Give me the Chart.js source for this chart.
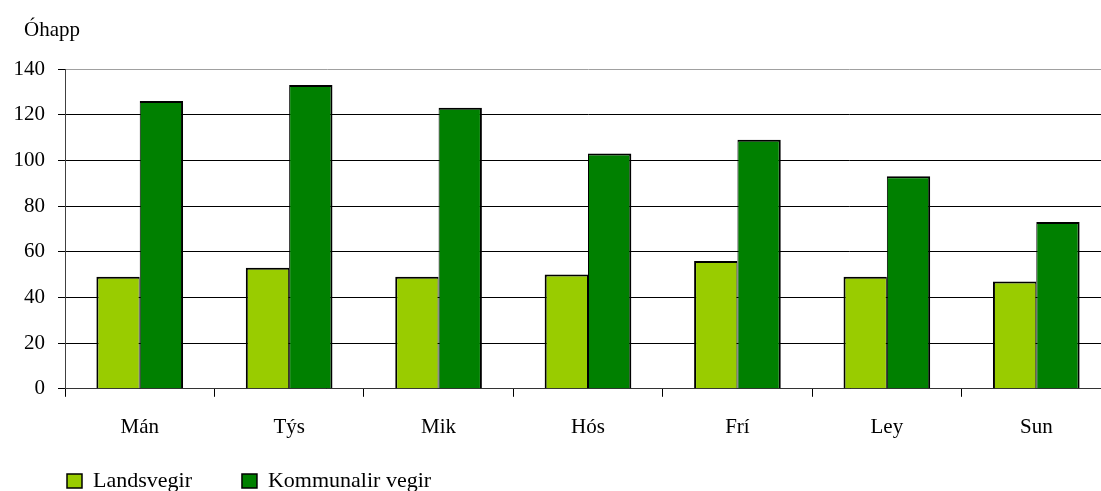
<!DOCTYPE html>
<html lang="fo">

<head>
    <meta charset="UTF-8">
    <title>Óhapp</title>
    <script src="https://cdn.jsdelivr.net/npm/chart.js"></script>
    <style>
        body { margin: 0; overflow: hidden; background: #fff; }
        .container { width: 1111px; height: 491px; }
    </style>
</head>

<body>
    <div class="container">
        <canvas id="grafOhapp"></canvas>
    </div>

    <script>
        // Dagar og tal
        const dagar = ['Mán', 'Týs', 'Mik', 'Hós', 'Frí', 'Ley', 'Sun'];
        const landsvegir = [49, 53, 49, 50, 56, 49, 47];
        const kommunalirVegir = [126, 133, 123, 103, 109, 93, 73];
        const yTicks = [0, 20, 40, 60, 80, 100, 120, 140];

        const serif = "'Liberation Serif', 'Times New Roman', serif";
        const font = { family: serif, size: 21 };
        Chart.defaults.font = font;
        Chart.defaults.color = '#000';

        // flytur heiti og tekningarforklaring á rætt stað
        const flyt = {
            id: 'flyt',
            afterLayout(chart) {
                const lg = chart.legend;
                const p = lg.options.labels.padding;
                const w = lg.right - lg.left;
                lg.left = 67 - p;
                lg.right = lg.left + w;
                lg.top = 470 - p;
                lg.bottom = 491;
                lg.height = lg.bottom - lg.top;
                const t = chart.titleBlock;
                const tw = t.right - t.left;
                t.left = 24;
                t.right = 24 + tw;
            }
        };

        const ctx = document.getElementById('grafOhapp').getContext('2d');
        new Chart(ctx, {
            type: 'bar',
            data: {
                labels: dagar,
                datasets: [{
                    label: 'Landsvegir',
                    data: landsvegir,
                    backgroundColor: '#99CC00',
                    borderColor: '#000',
                    borderWidth: { top: 2, left: 2, right: 1 }
                }, {
                    label: 'Kommunalir vegir',
                    data: kommunalirVegir,
                    backgroundColor: '#008000',
                    borderColor: '#000',
                    borderWidth: { top: 2, left: 1, right: 2 }
                }]
            },
            options: {
                responsive: true,
                maintainAspectRatio: false,
                animation: false,
                layout: { padding: { left: 0.5, top: 2, right: 0, bottom: 0 } },
                datasets: { bar: { categoryPercentage: 0.58, barPercentage: 1, inflateAmount: 0 } },
                scales: {
                    x: {
                        grid: { offset: true, drawOnChartArea: false, drawTicks: true, tickLength: 8, color: '#000' },
                        border: { color: '#333', width: 1 },
                        ticks: { padding: 18, font: font }
                    },
                    y: {
                        min: 0,
                        max: 140,
                        afterBuildTicks: axis => { axis.ticks = yTicks.map(v => ({ value: v })); },
                        grid: {
                            color: c => (c.tick && c.tick.value === 140) ? '#a0a0a0' : '#000',
                            tickColor: '#000',
                            tickLength: 7
                        },
                        border: { color: '#404040', width: 1 },
                        ticks: { padding: 13, font: font }
                    }
                },
                plugins: {
                    title: {
                        display: true,
                        text: 'Óhapp',
                        align: 'start',
                        font: { family: serif, size: 21, weight: 'normal' },
                        padding: { top: 15.4, bottom: 26.4 }
                    },
                    legend: {
                        position: 'bottom',
                        align: 'start',
                        maxHeight: 33,
                        labels: {
                            boxWidth: 15, boxHeight: 14, padding: 50, font: { family: serif, size: 22 },
                            generateLabels: chart => Chart.defaults.plugins.legend.labels.generateLabels(chart)
                                .map(l => Object.assign(l, { lineWidth: 1.5 }))
                        }
                    },
                    tooltip: { enabled: false }
                }
            },
            plugins: [flyt]
        });
    </script>
</body>

</html>
